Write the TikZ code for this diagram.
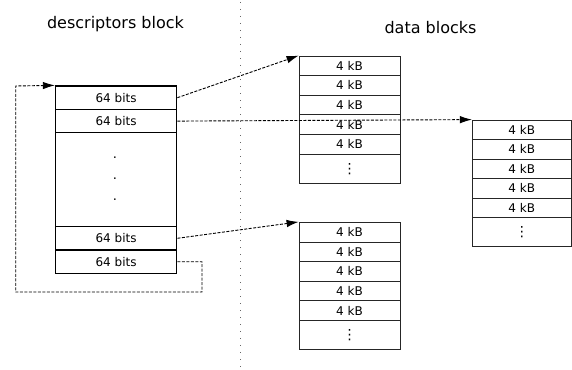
\documentclass[tikz,border=0pt]{standalone}
\usepackage{fontspec}
\setmainfont{DejaVu Sans}
\usetikzlibrary{arrows.meta}
\begin{document}
\begin{tikzpicture}[x=1pt,y=-1pt,
  desc/.style={draw=black,line width=1.3pt,minimum width=121.2pt,minimum height=23.4pt,
    inner sep=0pt,font=\fontsize{12}{14}\selectfont},
  gapbox/.style={draw=black,line width=1.3pt,minimum width=121.2pt,minimum height=93.8pt,inner sep=0pt},
  cell/.style={draw=black!85,line width=0.8pt,minimum width=101pt,minimum height=19.6pt,
    inner sep=0pt,font=\fontsize{12}{14}\selectfont},
  tailcell/.style={cell,minimum height=29.3pt,font=\fontsize{14}{14}\selectfont},
  link/.style={draw=black,line width=0.9pt,dash pattern=on 3pt off 1.5pt},
  tip/.style={-{Latex[length=12pt,width=7.5pt]}},
  title/.style={font=\fontsize{16}{19}\selectfont,anchor=base},
  ellip/.style={font=\fontsize{13}{14}\selectfont,inner sep=0pt}
]
\useasboundingbox (0,0) rectangle (572,369);

% column titles
\node[title] (tdesc) at (115.5,29) {descriptors block};
\node[title] (tdata) at (430.5,34) {data blocks};

% dotted divider between the two columns
\coordinate (divtop) at (240.7,2);
\coordinate (divbot) at (240.7,369);
\draw[black!60,line width=0.9pt,dash pattern=on 1pt off 6pt] (divtop) -- (divbot);

% descriptors block
\node[desc] (d1) at (116.1,97.7) {64 bits};
\node[desc] (d2) at (116.1,121.1) {64 bits};
\node[gapbox] (dg) at (116.1,179.7) {};
\node[desc] (d4) at (116.1,238.3) {64 bits};
\node[desc] (d5) at (116.1,261.7) {64 bits};
\node[ellip] (p1) at (115,158) {.};
\node[ellip] (p2) at (115,179) {.};
\node[ellip] (p3) at (115,199.5) {.};

% data block A (upper)
\foreach \i in {1,...,5} {
  \node[cell] (a\i) at (349.5,{56+19.6*(\i-0.5)}) {4 kB};
}
\node[tailcell] (a6) at (349.5,{56+19.6*5+14.65}) {⋮};

% data block B (lower)
\foreach \i in {1,...,5} {
  \node[cell] (b\i) at (349.5,{222.3+19.6*(\i-0.5)}) {4 kB};
}
\node[tailcell] (b6) at (349.5,{222.3+19.6*5+14.65}) {⋮};

% data block C (right)
\foreach \i in {1,...,5} {
  \node[cell,minimum width=99pt,minimum height=19.5pt] (c\i) at (521.8,{120+19.5*(\i-0.5)}) {4 kB};
}
\node[tailcell,minimum width=99pt,minimum height=28.5pt] (c6) at (521.8,{120+19.5*5+14.25}) {⋮};

% descriptor pointers
\draw[link,tip] (d1.east) -- (a1.north west);
\draw[link,tip] (d2.east) -- (c1.north west);
\draw[link,tip] (d4.east) -- (b1.north west);

% wrap-around from the last descriptor back to the first
\coordinate (w1) at (202,261.7);
\coordinate (w2) at (202,292);
\coordinate (w3) at (15.7,292);
\coordinate (w4) at (15.7,86);
\draw[link,tip] (d5.east) -- (w1) -- (w2) -- (w3) -- (w4) -- (d1.north west);
\end{tikzpicture}
\end{document}
